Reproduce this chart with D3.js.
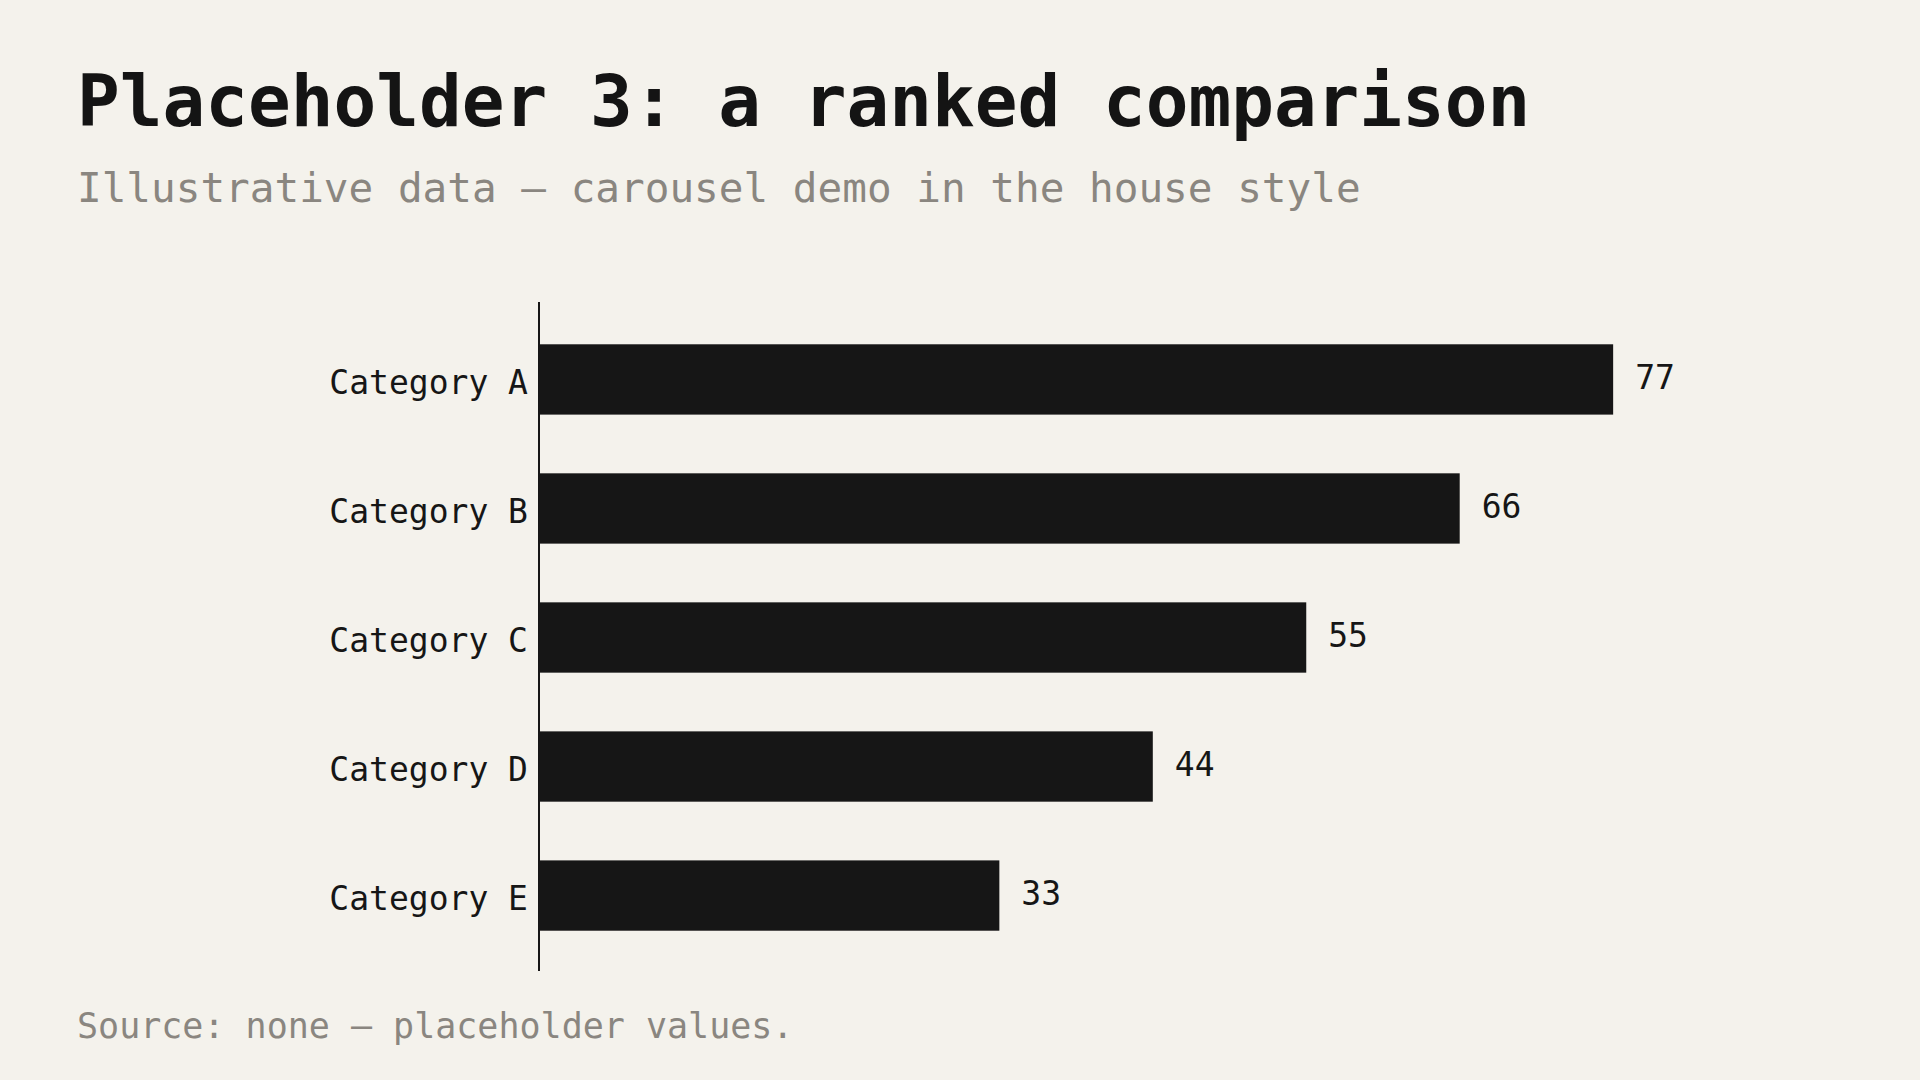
<!DOCTYPE html>
<html><head><meta charset="utf-8">
<script src="https://cdn.jsdelivr.net/npm/d3@7"></script>
<style>body{margin:0;background:#f4f2ec;}svg{display:block}</style>
</head><body><svg id="c" width="1920" height="1080"></svg>
<script>
const categories = ["Category A","Category B","Category C","Category D","Category E"];
const values = [77,66,55,44,33];
const title = "Placeholder 3: a ranked comparison";
const subtitle = "Illustrative data — carousel demo in the house style";
const source = "Source: none — placeholder values.";
const font = "'DejaVu Sans Mono', 'Liberation Mono', monospace";
const svg = d3.select("#c");
svg.append("rect").attr("width",1920).attr("height",1080).attr("fill","#f4f2ec");
svg.append("text").attr("x",77).attr("y",126).attr("font-family",font).attr("font-weight","bold")
  .attr("font-size",71).attr("fill","#141414").text(title);
svg.append("text").attr("x",77).attr("y",202).attr("font-family",font)
  .attr("font-size",41).attr("fill","#8a8680").text(subtitle);
svg.append("text").attr("x",77).attr("y",1038).attr("font-family",font)
  .attr("font-size",35).attr("fill","#8a8680").text(source);
const x = d3.scaleLinear().domain([0,80]).range([539,539+80*13.95]);
const y = d3.scaleBand().domain(categories).range([315,960]).paddingInner(0.455).paddingOuter(0.227);
const g = svg.append("g");
g.selectAll("rect.bar").data(values).join("rect").attr("class","bar")
  .attr("x",x(0)).attr("y",(d,i)=>y(categories[i])).attr("width",d=>x(d)-x(0))
  .attr("height",y.bandwidth()).attr("fill","#161616");
g.selectAll("text.val").data(values).join("text").attr("class","val")
  .attr("x",d=>x(d)+22).attr("y",(d,i)=>y(categories[i])+y.bandwidth()/2)
  .attr("dy","0.28em").attr("font-family",font).attr("font-size",33).attr("fill","#161616").text(d=>d);
const ax = d3.axisLeft(y).tickSize(0).tickPadding(11);
const axg = svg.append("g").attr("transform",`translate(${x(0)},0)`).call(ax);
axg.select(".domain").remove();
axg.selectAll("text").attr("font-family",font).attr("font-size",33).attr("fill","#161616").attr("dy","0.45em");
svg.append("line").attr("x1",x(0)).attr("x2",x(0)).attr("y1",302).attr("y2",971).attr("stroke","#161616").attr("stroke-width",2);
</script></body></html>
